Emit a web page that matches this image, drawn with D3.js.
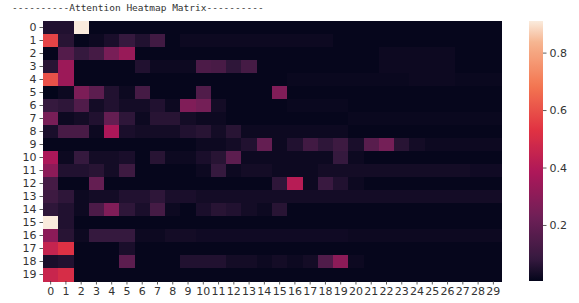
<!DOCTYPE html>
<html>
<head>
<meta charset="utf-8">
<script src="https://cdn.jsdelivr.net/npm/d3@7"></script>
<style>
  body { margin: 0; background: #fff; }
  svg text { font-family: "DejaVu Sans", sans-serif; fill: #333; }
</style>
</head>
<body>
<svg id="chart" width="579" height="303"></svg>
<script>
const title = "----------Attention Heatmap Matrix----------";
const rowLabels = d3.range(20).map(String);
const colLabels = d3.range(30).map(String);
const colorbarTicks = [0.2, 0.4, 0.6, 0.8];

// rocket colormap stops (seaborn)
const rocketStops = ["#03051a", "#35193e", "#701f57", "#ad1759", "#e13342", "#f37651", "#f6b48f", "#faebdd"];
const rocketPos = [0, 0.083, 0.25, 0.417, 0.583, 0.75, 0.917, 1];

// attention weights, one array per row
const matrix = [
  [0.05,0.05,0.91,0.01,0.01,0.01,0.01,0.01,0.01,0.01, 0.01,0.01,0.01,0.01,0.01,0.01,0.01,0.01,0.01,0.01, 0.01,0.01,0.01,0.01,0.01,0.01,0.01,0.01,0.01,0.01],
  [0.57,0.06,0.01,0.02,0.04,0.08,0.05,0.11,0.01,0.02, 0.02,0.02,0.02,0.02,0.02,0.02,0.02,0.02,0.02,0.01, 0.01,0.01,0.01,0.01,0.01,0.01,0.01,0.01,0.01,0.01],
  [0.01,0.16,0.08,0.12,0.25,0.33,0.01,0.01,0.01,0.01, 0.01,0.01,0.01,0.01,0.01,0.01,0.01,0.01,0.01,0.01, 0.01,0.01,0.02,0.02,0.02,0.02,0.02,0.01,0.01,0.01],
  [0.06,0.34,0.01,0.01,0.01,0.01,0.05,0.02,0.02,0.02, 0.14,0.13,0.07,0.12,0.01,0.01,0.01,0.01,0.01,0.01, 0.01,0.01,0.02,0.02,0.02,0.02,0.02,0.01,0.01,0.01],
  [0.60,0.34,0.01,0.01,0.01,0.01,0.01,0.01,0.01,0.01, 0.01,0.01,0.01,0.01,0.01,0.01,0.015,0.015,0.015,0.015, 0.015,0.015,0.015,0.015,0.02,0.02,0.02,0.015,0.015,0.015],
  [0.005,0.02,0.26,0.18,0.05,0.02,0.12,0.01,0.01,0.01, 0.15,0.01,0.01,0.01,0.01,0.27,0.01,0.01,0.01,0.01, 0.01,0.01,0.01,0.01,0.01,0.01,0.01,0.01,0.01,0.01],
  [0.08,0.07,0.15,0.03,0.05,0.03,0.03,0.05,0.02,0.27, 0.24,0.03,0.01,0.01,0.01,0.01,0.015,0.015,0.015,0.015, 0.01,0.01,0.01,0.01,0.01,0.01,0.01,0.01,0.01,0.01],
  [0.25,0.02,0.03,0.05,0.20,0.07,0.02,0.06,0.06,0.03, 0.02,0.02,0.01,0.01,0.01,0.01,0.01,0.01,0.01,0.01, 0.015,0.015,0.015,0.015,0.015,0.015,0.015,0.015,0.015,0.015],
  [0.04,0.13,0.13,0.02,0.38,0.04,0.03,0.03,0.03,0.05, 0.06,0.03,0.06,0.02,0.02,0.02,0.02,0.02,0.02,0.02, 0.01,0.01,0.01,0.01,0.01,0.01,0.01,0.01,0.01,0.01],
  [0.01,0.01,0.01,0.01,0.01,0.01,0.01,0.01,0.01,0.01, 0.02,0.02,0.03,0.05,0.20,0.02,0.05,0.11,0.07,0.10, 0.04,0.17,0.24,0.06,0.03,0.02,0.02,0.02,0.02,0.02],
  [0.38,0.02,0.08,0.03,0.03,0.04,0.01,0.06,0.02,0.02, 0.04,0.06,0.18,0.02,0.02,0.02,0.02,0.02,0.02,0.08, 0.02,0.01,0.01,0.01,0.01,0.01,0.01,0.01,0.01,0.01],
  [0.30,0.05,0.05,0.06,0.03,0.10,0.01,0.01,0.01,0.01, 0.02,0.08,0.02,0.03,0.03,0.02,0.02,0.02,0.03,0.03, 0.03,0.03,0.03,0.03,0.03,0.03,0.03,0.03,0.025,0.025],
  [0.12,0.01,0.01,0.20,0.01,0.01,0.01,0.01,0.01,0.01, 0.01,0.01,0.01,0.01,0.01,0.07,0.41,0.02,0.09,0.05, 0.02,0.01,0.01,0.01,0.01,0.01,0.01,0.01,0.01,0.01],
  [0.10,0.07,0.02,0.03,0.03,0.05,0.05,0.07,0.04,0.04, 0.03,0.03,0.03,0.03,0.03,0.03,0.03,0.03,0.03,0.03, 0.03,0.03,0.03,0.03,0.03,0.03,0.03,0.03,0.03,0.03],
  [0.07,0.05,0.02,0.14,0.27,0.07,0.04,0.12,0.02,0.01, 0.04,0.06,0.05,0.03,0.02,0.06,0.01,0.01,0.01,0.01, 0.01,0.01,0.01,0.01,0.01,0.01,0.01,0.01,0.01,0.01],
  [0.91,0.05,0.01,0.01,0.01,0.01,0.01,0.01,0.01,0.01, 0.01,0.01,0.01,0.01,0.01,0.01,0.01,0.01,0.01,0.01, 0.01,0.01,0.01,0.01,0.01,0.01,0.01,0.01,0.01,0.01],
  [0.30,0.06,0.02,0.08,0.08,0.08,0.02,0.02,0.03,0.03, 0.025,0.025,0.025,0.025,0.025,0.025,0.025,0.025,0.025,0.025, 0.02,0.02,0.02,0.02,0.02,0.02,0.02,0.02,0.02,0.02],
  [0.45,0.52,0.01,0.01,0.01,0.04,0.01,0.01,0.01,0.01, 0.01,0.01,0.01,0.01,0.01,0.01,0.01,0.01,0.01,0.01, 0.01,0.01,0.01,0.01,0.01,0.01,0.01,0.01,0.01,0.01],
  [0.04,0.05,0.01,0.01,0.01,0.18,0.01,0.01,0.01,0.05, 0.05,0.05,0.03,0.03,0.02,0.03,0.02,0.03,0.15,0.30, 0.02,0.01,0.01,0.01,0.01,0.01,0.01,0.01,0.01,0.01],
  [0.46,0.50,0.01,0.01,0.01,0.01,0.01,0.01,0.01,0.01, 0.01,0.01,0.01,0.01,0.01,0.01,0.01,0.01,0.01,0.01, 0.01,0.01,0.01,0.01,0.01,0.01,0.01,0.01,0.01,0.01]
];

const plot = {left: 43, top: 21, right: 501, bottom: 281};
const cbar = {left: 529, right: 543};

const svg = d3.select("#chart");

const cells = [];
matrix.forEach((row, r) => row.forEach((v, c) => cells.push({r, c, v})));

const vmin = d3.min(cells, d => d.v);
const vmax = d3.max(cells, d => d.v);

const rocket = d3.scaleLinear()
    .domain(rocketPos)
    .range(rocketStops)
    .interpolate(d3.interpolateRgb);
const color = v => rocket((v - vmin) / (vmax - vmin));

const x = d3.scaleBand()
    .domain(colLabels)
    .range([plot.left, plot.right]);
const y = d3.scaleBand()
    .domain(rowLabels)
    .range([plot.top, plot.bottom]);

svg.append("g")
    .attr("shape-rendering", "crispEdges")
    .selectAll("rect")
    .data(cells)
    .join("rect")
    .attr("x", d => x(colLabels[d.c]))
    .attr("y", d => y(rowLabels[d.r]))
    .attr("width", x.bandwidth() + 0.5)
    .attr("height", y.bandwidth() + 0.5)
    .attr("fill", d => color(d.v));

// axes
let gx = svg.append("g")
    .attr("transform", `translate(0,${plot.bottom})`)
    .call(d3.axisBottom(x).tickSize(3.5).tickPadding(3));
let gy = svg.append("g")
    .attr("transform", `translate(${plot.left},0)`)
    .call(d3.axisLeft(y).tickSize(3.5).tickPadding(3));
[gx, gy].forEach(g => {
    g.select(".domain").remove();
    g.selectAll(".tick line").attr("stroke", "#333").attr("stroke-width", 0.8);
    g.selectAll(".tick text").attr("font-size", 11).attr("font-family", "DejaVu Sans").attr("fill", "#333");
});
gy.selectAll(".tick text").attr("dy", "0.36em");

// colorbar
const cy = d3.scaleLinear()
    .domain([vmin, vmax])
    .range([plot.bottom, plot.top]);

const defs = svg.append("defs");
const grad = defs.append("linearGradient")
    .attr("id", "rocketGrad")
    .attr("x1", 0).attr("y1", 1).attr("x2", 0).attr("y2", 0);
grad.selectAll("stop")
    .data(d3.range(0, 1.0001, 0.02))
    .join("stop")
    .attr("offset", d => d)
    .attr("stop-color", d => rocket(d));

svg.append("rect")
    .attr("x", cbar.left)
    .attr("y", plot.top)
    .attr("width", cbar.right - cbar.left)
    .attr("height", plot.bottom - plot.top)
    .attr("fill", "url(#rocketGrad)");

let gc = svg.append("g")
    .attr("transform", `translate(${cbar.right},0)`)
    .call(d3.axisRight(cy).tickValues(colorbarTicks).tickSize(3.5).tickPadding(3).tickFormat(d3.format(".1f")));
gc.select(".domain").remove();
gc.selectAll(".tick line").attr("stroke", "#333").attr("stroke-width", 0.8);
gc.selectAll(".tick text").attr("font-size", 11).attr("font-family", "DejaVu Sans").attr("fill", "#333");

// title
svg.append("text")
    .attr("x", 12)
    .attr("y", 11)
    .attr("font-size", 9.5)
    .style("font-family", "DejaVu Sans Mono")
    .text(title);
</script>
</body>
</html>
